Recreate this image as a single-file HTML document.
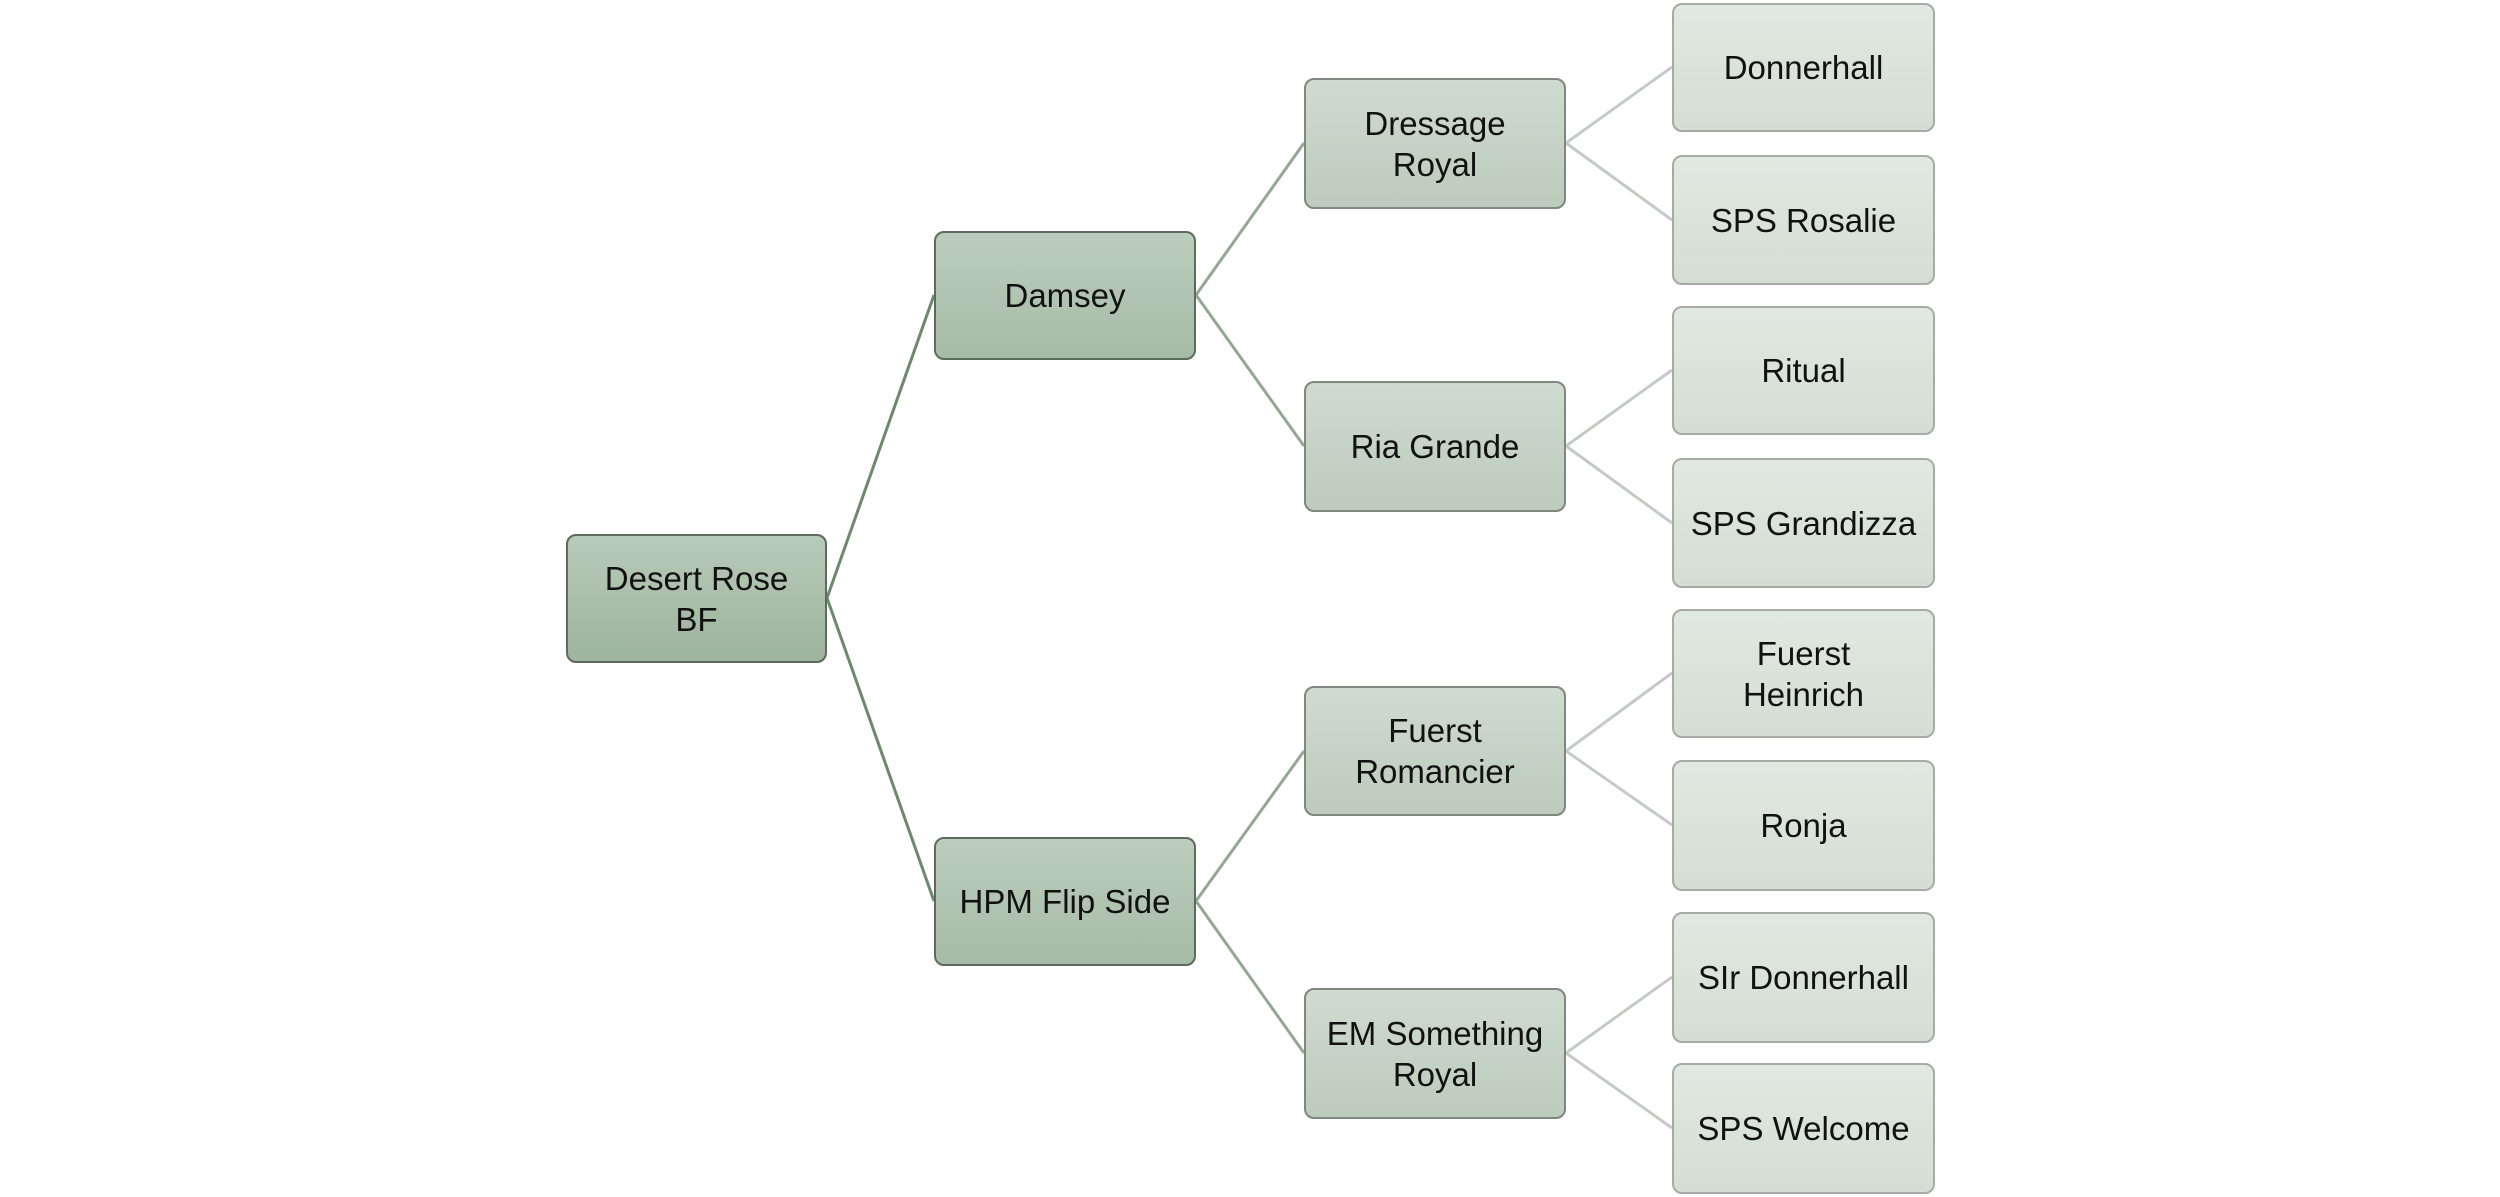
<!DOCTYPE html>
<html><head><meta charset="utf-8"><style>
html,body{margin:0;padding:0;background:#fff;}
body{width:2500px;height:1197px;position:relative;overflow:hidden;font-family:"Liberation Sans",sans-serif;}
.b{position:absolute;box-sizing:border-box;border-radius:10px;display:flex;align-items:center;justify-content:center;text-align:center;font-size:33px;line-height:41px;color:#111;}
.l0{background:linear-gradient(#b8cab8,#9db49d);border:2px solid #5d6b5d;}
.l1{background:linear-gradient(#bccdbc,#a6bba6);border:2px solid #5d6b5d;}
.l2{background:linear-gradient(#cfdbcf,#bccbbc);border:2px solid #7e887e;}
.l3{background:linear-gradient(#e1e8e1,#d4ded4);border:2px solid #a4aca4;}
svg{position:absolute;left:0;top:0;}
</style></head><body>
<svg width="2500" height="1197">
<g stroke="#6b8a6b" stroke-width="3" fill="none">
<line x1="827" y1="598" x2="934" y2="295"/>
<line x1="827" y1="598" x2="934" y2="901"/>
</g>
<g stroke="#93a893" stroke-width="3" fill="none">
<line x1="1196" y1="295" x2="1304" y2="143"/>
<line x1="1196" y1="295" x2="1304" y2="446"/>
<line x1="1196" y1="901" x2="1304" y2="751"/>
<line x1="1196" y1="901" x2="1304" y2="1053"/>
</g>
<g stroke="#c6cac6" stroke-width="3" fill="none">
<line x1="1566" y1="143" x2="1672" y2="67"/>
<line x1="1566" y1="143" x2="1672" y2="220"/>
<line x1="1566" y1="446" x2="1672" y2="370"/>
<line x1="1566" y1="446" x2="1672" y2="523"/>
<line x1="1566" y1="751" x2="1672" y2="673"/>
<line x1="1566" y1="751" x2="1672" y2="825"/>
<line x1="1566" y1="1053" x2="1672" y2="977"/>
<line x1="1566" y1="1053" x2="1672" y2="1128"/>
</g>
</svg>
<div class="b l0" style="left:566px;top:534px;width:261px;height:129px;">Desert Rose<br>BF</div>
<div class="b l1" style="left:934px;top:231px;width:262px;height:129px;">Damsey</div>
<div class="b l1" style="left:934px;top:837px;width:262px;height:129px;">HPM Flip Side</div>
<div class="b l2" style="left:1304px;top:78px;width:262px;height:131px;">Dressage<br>Royal</div>
<div class="b l2" style="left:1304px;top:381px;width:262px;height:131px;">Ria Grande</div>
<div class="b l2" style="left:1304px;top:686px;width:262px;height:130px;">Fuerst<br>Romancier</div>
<div class="b l2" style="left:1304px;top:988px;width:262px;height:131px;">EM Something<br>Royal</div>
<div class="b l3" style="left:1672px;top:3px;width:263px;height:129px;">Donnerhall</div>
<div class="b l3" style="left:1672px;top:155px;width:263px;height:130px;">SPS Rosalie</div>
<div class="b l3" style="left:1672px;top:306px;width:263px;height:129px;">Ritual</div>
<div class="b l3" style="left:1672px;top:458px;width:263px;height:130px;">SPS Grandizza</div>
<div class="b l3" style="left:1672px;top:609px;width:263px;height:129px;">Fuerst<br>Heinrich</div>
<div class="b l3" style="left:1672px;top:760px;width:263px;height:131px;">Ronja</div>
<div class="b l3" style="left:1672px;top:912px;width:263px;height:131px;">SIr Donnerhall</div>
<div class="b l3" style="left:1672px;top:1063px;width:263px;height:131px;">SPS Welcome</div>
</body></html>
